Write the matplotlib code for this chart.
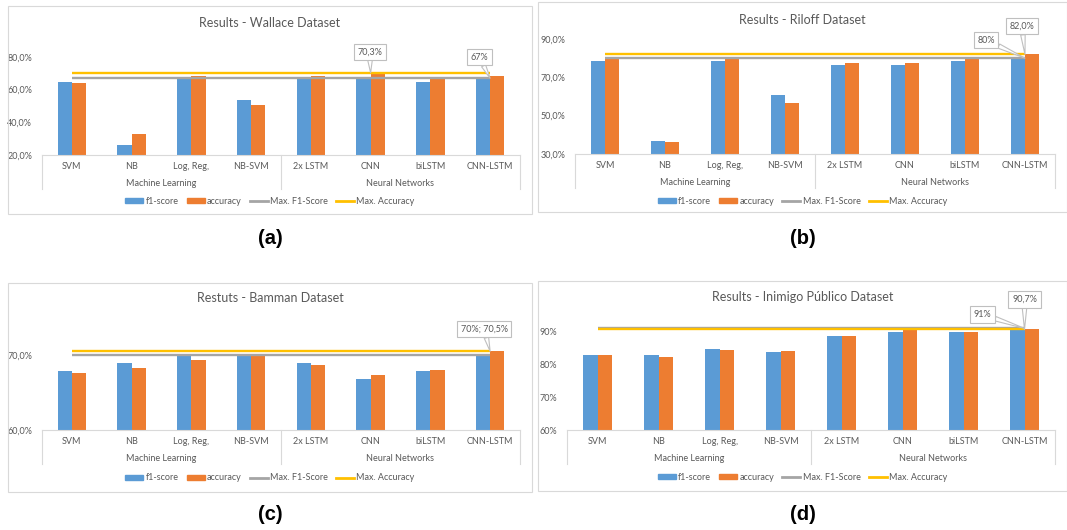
import numpy as np
import matplotlib.pyplot as plt
from matplotlib.patches import Rectangle, Patch
from matplotlib.lines import Line2D
from matplotlib.transforms import offset_copy

plt.rcParams['font.family'] = 'Lato'

categories = ['SVM', 'NB', 'Log, Reg,', 'NB-SVM', '2x LSTM', 'CNN', 'biLSTM', 'CNN-LSTM']
groups = ['Machine Learning', 'Neural Networks']
legend_labels = ['f1-score', 'accuracy', 'Max. F1-Score', 'Max. Accuracy']

wallace_f1 = [64.5, 25.9, 66.6, 53.7, 66.6, 66.6, 64.5, 67.0]
wallace_acc = [63.9, 32.8, 68.1, 50.6, 68.1, 70.3, 66.5, 68.6]

riloff_f1 = [78.5, 36.8, 78.5, 60.8, 76.5, 76.5, 78.6, 80.0]
riloff_acc = [79.6, 36.4, 79.6, 56.6, 77.7, 77.7, 79.6, 82.0]

bamman_f1 = [67.9, 68.9, 70.0, 70.0, 68.9, 66.8, 67.9, 70.0]
bamman_acc = [67.6, 68.3, 69.3, 70.0, 68.7, 67.3, 68.0, 70.5]

inimigo_f1 = [83.0, 83.0, 84.6, 83.8, 88.6, 89.8, 89.8, 91.0]
inimigo_acc = [83.0, 82.3, 84.4, 84.2, 88.6, 90.5, 89.8, 90.7]

BLUE = '#5B9BD5'
ORANGE = '#ED7D31'
GRAY = '#A5A5A5'
YELLOW = '#FFC000'
TEXT = '#595959'
BORDER = '#D9D9D9'
CALLOUT = '#BFBFBF'

W, H = 1067, 530
fig = plt.figure(figsize=(W / 100, H / 100), dpi=100)


def pct(v, dec):
    return f"{v:.{dec}f}%".replace('.', ',')


def panel(box, plot, title, title_y, legend_y, f1, acc, ylim, yticks, ydec,
          callouts, letter, letter_y):
    bx0, by0, bx1, by1 = box
    fig.add_artist(Rectangle((bx0 / W, 1 - by1 / H), (bx1 - bx0) / W, (by1 - by0) / H,
                             transform=fig.transFigure, fill=False, ec=BORDER, lw=0.8))
    cx = (bx0 + bx1) / 2

    left, right, ybot, ytop = plot
    axh = ybot - ytop
    ax = fig.add_axes([left / W, 1 - ybot / H, (right - left) / W, axh / H])

    x = np.arange(len(categories))
    ax.bar(x - 0.12, f1, 0.24, color=BLUE, zorder=2)
    ax.bar(x + 0.12, acc, 0.24, color=ORANGE, zorder=2)
    ax.plot(x, [max(f1)] * len(x), color=GRAY, lw=1.7, solid_capstyle='butt', zorder=3)
    ax.plot(x, [max(acc)] * len(x), color=YELLOW, lw=1.7, solid_capstyle='butt', zorder=3)

    ax.set_xlim(-0.5, len(categories) - 0.5)
    ax.set_ylim(*ylim)
    ax.set_yticks(yticks)
    ax.set_yticklabels([pct(t, ydec) for t in yticks])
    ax.set_xticks([])
    ax.tick_params(axis='y', length=0, pad=7, labelsize=6.5, colors=TEXT)
    for s in ('top', 'right', 'left'):
        ax.spines[s].set_visible(False)
    ax.spines['bottom'].set_color(BORDER)
    ax.spines['bottom'].set_linewidth(0.8)

    # two-level category axis
    xt = ax.get_xaxis_transform()
    cat_tr = offset_copy(xt, fig=fig, y=-11.5, units='dots')
    grp_tr = offset_copy(xt, fig=fig, y=-28.5, units='dots')
    for i, c in enumerate(categories):
        ax.text(i, 0, c, transform=cat_tr, ha='center', va='center',
                fontsize=6.5, color=TEXT)
    for i, g in enumerate(groups):
        ax.text(1.5 + 4 * i, 0, g, transform=grp_tr, ha='center', va='center',
                fontsize=6.5, color=TEXT)
    for sx in (-0.5, 3.5, 7.5):
        ax.plot([sx, sx], [0, -34 / axh], transform=xt, clip_on=False,
                color=BORDER, lw=0.8)

    for text, xi, yv, dx, dy in callouts:
        ax.annotate(text, xy=(xi, yv), xytext=(dx, dy), textcoords='offset pixels',
                    ha='center', va='center', fontsize=6.5, color=TEXT,
                    bbox=dict(boxstyle='square,pad=0.4', fc='white', ec=CALLOUT, lw=0.8),
                    arrowprops=dict(arrowstyle='wedge,tail_width=0.5', fc='white',
                                    ec=CALLOUT, lw=0.8, shrinkA=0, shrinkB=0),
                    annotation_clip=False, zorder=5)

    fig.text(cx / W, 1 - title_y / H, title, ha='center', va='center',
             fontsize=9, color=TEXT)

    handles = [Patch(color=BLUE), Patch(color=ORANGE),
               Line2D([], [], color=GRAY, lw=2), Line2D([], [], color=YELLOW, lw=2)]
    fig.legend(handles, legend_labels, loc='center', bbox_to_anchor=(cx / W, 1 - legend_y / H),
               ncol=4, frameon=False, fontsize=6.5, handlelength=2.0, handleheight=0.55,
               handletextpad=0.25, columnspacing=0.9, labelcolor=TEXT, borderpad=0)

    fig.text(cx / W, 1 - letter_y / H, letter, ha='center', va='center',
             fontsize=14.5, fontweight='bold', family='Liberation Sans', color='black')


panel((8, 6, 532, 214), (42, 520, 155, 57), 'Results - Wallace Dataset', 23, 201,
      wallace_f1, wallace_acc, (20, 80), [20, 40, 60, 80], 1,
      [(pct(max(wallace_acc), 1), 5, max(wallace_acc), -1, 21),
       (pct(max(wallace_f1), 0), 7, max(wallace_f1), -11, 21)],
      '(a)', 239)

panel((538, 2, 1067, 212), (575, 1055, 154, 39), 'Results - Riloff Dataset', 20, 201,
      riloff_f1, riloff_acc, (30, 90), [30, 50, 70, 90], 1,
      [(pct(max(riloff_f1), 0), 7, max(riloff_f1), -39, 18),
       (pct(max(riloff_acc), 1), 7, max(riloff_acc), -3, 28)],
      '(b)', 239)

panel((8, 283, 532, 492), (42, 520, 430, 317.5), 'Restuts - Bamman Dataset', 298, 478,
      bamman_f1, bamman_acc, (60, 75), [60, 70], 1,
      [(pct(max(bamman_f1), 0) + '; ' + pct(max(bamman_acc), 1), 7, max(bamman_acc), -6, 22)],
      '(c)', 514)

panel((538, 281, 1067, 491), (567, 1055, 430, 315.3), 'Results - Inimigo Público Dataset', 297, 477,
      inimigo_f1, inimigo_acc, (60, 95), [60, 70, 80, 90], 0,
      [(pct(max(inimigo_f1), 0), 7, max(inimigo_f1), -42, 14),
       (pct(max(inimigo_acc), 1), 7, max(inimigo_acc), 0, 30)],
      '(d)', 514)

fig.savefig('out.png', dpi=100, facecolor='white')
